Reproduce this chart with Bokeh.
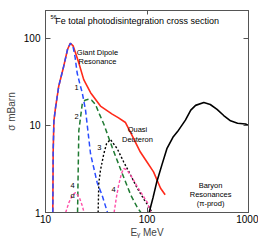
from bokeh.plotting import figure
from bokeh.models import FixedTicker, LogAxis, CustomJSTickFormatter
from bokeh.core.properties import value
from bokeh.embed import file_html
from bokeh.resources import INLINE

# ---- data (E_gamma in MeV, sigma in mb) ----
total_x = [11.8, 11.9, 12.1, 12.5, 13.5, 15.1, 16.5, 17.6, 18.7, 19.8, 21.3, 23.8, 27.8,
           34.8, 45.4, 52.0, 61.4, 70.0, 86.0, 100.0, 116.0, 136.0, 151.0]
total_y = [1.0, 5.0, 11.3, 15.4, 28.2, 47.6, 75.0, 88.0, 82.0, 67.6, 52.0, 33.6, 23.8,
           16.7, 13.5, 12.3, 10.8, 8.0, 4.95, 3.8, 2.93, 1.9, 1.6]

gdr1_x = [11.8, 11.9, 12.1, 12.5, 13.5, 15.1, 16.5, 17.6, 18.7, 19.6, 20.5, 21.8, 23.0,
          24.8, 25.7, 27.8, 30.0, 32.3, 36.0, 40.8]
gdr1_y = [1.0, 5.0, 11.3, 15.4, 28.2, 47.6, 75.0, 88.0, 80.0, 60.0, 40.0, 30.0, 23.8,
          15.0, 10.4, 4.7, 3.2, 2.2, 1.6, 1.0]

gdr2_x = [20.7, 20.9, 21.3, 23.0, 24.5, 26.7, 28.5, 31.0, 34.0, 37.5, 45.4, 57.0, 69.5, 80.0, 87.0]
gdr2_y = [1.0, 2.2, 8.7, 17.5, 19.5, 20.0, 19.5, 17.5, 13.5, 10.4, 5.6, 2.8, 1.57, 1.15, 1.0]

qd3_x = [33.0, 33.5, 34.8, 37.5, 40.0, 43.6, 50.9, 59.0, 68.8, 80.2, 94.0, 105.0, 112.0]
qd3_y = [1.0, 2.16, 3.06, 4.7, 6.2, 6.9, 5.4, 3.8, 2.7, 1.9, 1.4, 1.15, 1.0]

alpha_a_x = [15.8, 17.0, 18.5, 19.8, 21.5, 23.0, 24.0]
alpha_a_y = [1.0, 1.3, 1.6, 1.7, 1.5, 1.2, 1.0]

alpha_b_x = [47.4, 50.0, 52.6, 56.0, 59.0, 63.0, 68.8, 80.0, 90.0, 101.0, 109.0]
alpha_b_y = [1.0, 1.5, 2.07, 2.8, 3.2, 3.1, 2.7, 2.0, 1.6, 1.3, 1.0]

baryon_x = [105.0, 115.0, 125.0, 140.0, 157.0, 180.0, 200.0, 239.0, 270.0, 301.0, 363.0,
            420.0, 490.0, 570.0, 665.0, 780.0, 935.0, 1000.0]
baryon_y = [1.0, 1.5, 2.26, 3.5, 5.4, 7.3, 8.5, 11.5, 15.0, 17.0, 18.3,
            17.4, 15.3, 13.0, 11.3, 10.6, 10.4, 10.0]

x_ticks = [10, 100, 1000]
y_ticks = [1, 10, 100]

# in-plot annotation texts
note_text = ["Giant Dipole", "Resonance", "1", "2", "Quasi", "Deuteron", "3", "4", "\u03b1", "4",
             "Baryon", "Resonances", "(\u03c0-prod)"]
note_x = [32.5, 32.5, 20.2, 20.2, 80.5, 80.5, 34.0, 18.5, 18.5, 46.8, 423, 423, 423]
note_y = [68, 53.8, 27.3, 12.8, 8.87, 6.83, 5.54, 2.05, 1.58, 1.85, 2.05, 1.62, 1.28]

title_text = ["Fe total photodisintegration cross section"]
title_sup = ["56"]

FONT = "Liberation Sans"
AX = "#555555"

p = figure(width=258, height=240, x_axis_type="log", y_axis_type="log",
           x_range=(10, 1000), y_range=(1, 209),
           output_backend="svg", toolbar_location=None,
           min_border_left=45, min_border_right=10, min_border_top=10, min_border_bottom=26)
p.title.visible = False

p.xgrid.visible = False
p.ygrid.visible = False
p.outline_line_color = AX

fmt = CustomJSTickFormatter(code="return tick.toString();")
for ax, ticks in ((p.xaxis[0], x_ticks), (p.yaxis[0], y_ticks)):
    ax.ticker = FixedTicker(ticks=ticks, minor_ticks=[])
    ax.formatter = fmt
    ax.major_tick_in = 5
    ax.major_tick_out = 0
    ax.minor_tick_line_color = None
    ax.axis_line_color = AX
    ax.major_tick_line_color = AX
    ax.major_label_text_font = FONT
    ax.major_label_text_font_size = "10px"
    ax.major_label_text_color = "black"
    ax.axis_label_text_font = FONT
    ax.axis_label_text_font_size = "10px"
    ax.axis_label_text_font_style = "normal"

p.xaxis.major_label_standoff = 2
p.xaxis.axis_label_standoff = 1
p.yaxis.major_label_standoff = 5
p.yaxis.axis_label_standoff = 4
p.xaxis.axis_label = "E\u1d67 MeV"
p.yaxis.axis_label = "\u03c3 mBarn"

blank = CustomJSTickFormatter(code="return '';")
ra = LogAxis(ticker=FixedTicker(ticks=y_ticks, minor_ticks=[]), formatter=blank,
             major_tick_in=5, major_tick_out=0, minor_tick_line_color=None,
             axis_line_color=AX, major_tick_line_color=AX, major_label_standoff=0)
p.add_layout(ra, "right")
ta = LogAxis(ticker=FixedTicker(ticks=x_ticks, minor_ticks=[]), formatter=blank,
             major_tick_in=4, major_tick_out=0, minor_tick_line_color=None,
             axis_line_color=AX, major_tick_line_color=AX, major_label_standoff=0)
p.add_layout(ta, "above")

# curves
p.line(total_x, total_y, line_color="#ff2a1a", line_width=1.6)
p.line(gdr1_x, gdr1_y, line_color="#2a4cff", line_width=1.5, line_dash="5 3")
p.line(gdr2_x, gdr2_y, line_color="#1f7a32", line_width=1.5, line_dash="5 3")
p.line(qd3_x, qd3_y, line_color="black", line_width=1.4, line_dash="2 2")
p.line(alpha_a_x, alpha_a_y, line_color="#ff4fa8", line_width=1.4, line_dash="3 2")
p.line(alpha_b_x, alpha_b_y, line_color="#ff4fa8", line_width=1.4, line_dash="3 2")
p.line(baryon_x, baryon_y, line_color="black", line_width=1.6)

p.text(note_x, note_y, text=note_text, text_font=value(FONT), text_font_size=value("7.5px"),
       text_align="center", text_baseline="middle", text_color="black")
p.text([12.5], [160], text=title_text, text_font=value(FONT), text_font_size=value("9px"),
       text_align="left", text_baseline="middle", text_color="black")
p.text([11.2], [175], text=title_sup, text_font=value(FONT), text_font_size=value("5.5px"),
       text_align="left", text_baseline="middle", text_color="black")

open("out.html", "w").write(file_html(p, INLINE))
